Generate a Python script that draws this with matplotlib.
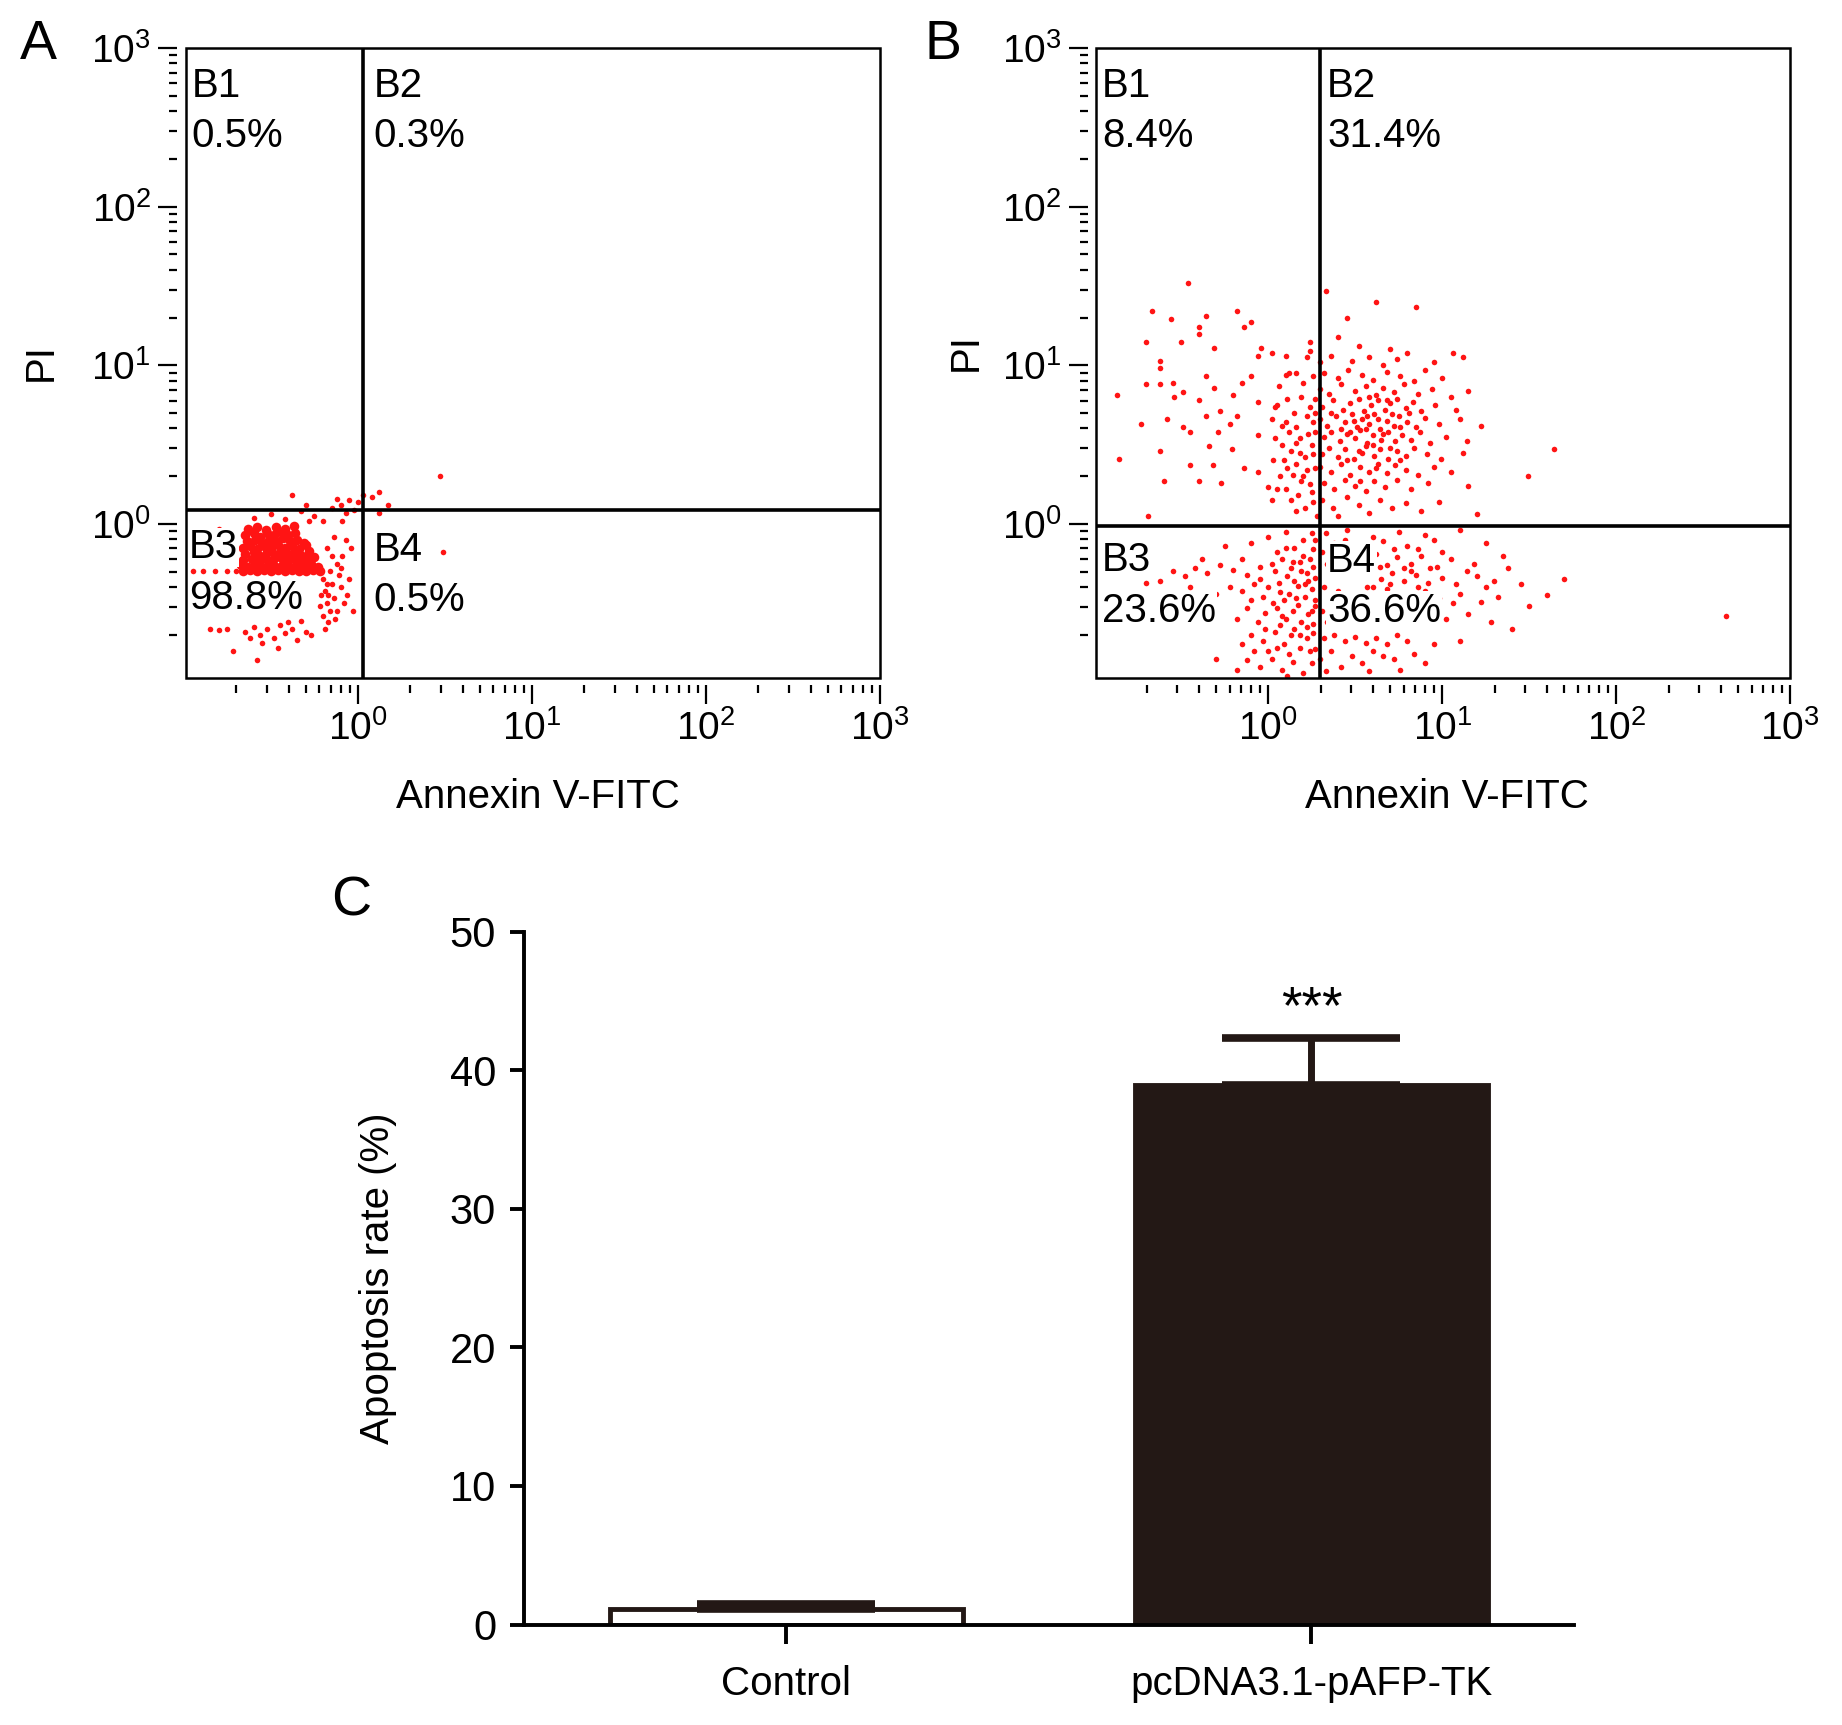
"""
Flow cytometry quadrant plots (A, B) and apoptosis rate bar chart (C).
"""

import numpy as np
import matplotlib
matplotlib.use('Agg')
import matplotlib.pyplot as plt
from matplotlib.patches import Rectangle
from matplotlib.ticker import LogLocator, NullFormatter

plt.rcParams['font.family'] = ['Liberation Sans', 'DejaVu Sans']
plt.rcParams['mathtext.fontset'] = 'custom'
plt.rcParams['mathtext.rm'] = 'Liberation Sans'
plt.rcParams['mathtext.it'] = 'Liberation Sans:italic'

# ---- data (log10 of Annexin V-FITC, log10 of PI) ----
# panel A: control, dense cluster in B3
a_core = [
    (-0.66,-0.30),(-0.62,-0.29),(-0.58,-0.30),(-0.54,-0.29),(-0.50,-0.30),(-0.46,-0.29),
    (-0.42,-0.30),(-0.38,-0.29),(-0.34,-0.30),(-0.30,-0.30),(-0.26,-0.29),(-0.22,-0.30),
    (-0.67,-0.26),(-0.63,-0.27),(-0.59,-0.25),(-0.55,-0.27),(-0.51,-0.26),(-0.47,-0.27),
    (-0.43,-0.25),(-0.39,-0.27),(-0.35,-0.26),(-0.31,-0.27),(-0.27,-0.25),(-0.23,-0.27),
    (-0.66,-0.23),(-0.61,-0.22),(-0.57,-0.24),(-0.53,-0.22),(-0.49,-0.23),(-0.45,-0.21),
    (-0.41,-0.23),(-0.37,-0.22),(-0.33,-0.24),(-0.29,-0.22),(-0.25,-0.21),
    (-0.65,-0.19),(-0.60,-0.18),(-0.56,-0.20),(-0.52,-0.18),(-0.48,-0.19),(-0.44,-0.17),
    (-0.40,-0.19),(-0.36,-0.18),(-0.32,-0.20),(-0.28,-0.17),
    (-0.66,-0.15),(-0.62,-0.14),(-0.58,-0.16),(-0.54,-0.14),(-0.50,-0.15),(-0.46,-0.13),
    (-0.42,-0.15),(-0.38,-0.14),(-0.34,-0.16),(-0.30,-0.13),
    (-0.64,-0.11),(-0.59,-0.10),(-0.55,-0.12),(-0.51,-0.10),(-0.47,-0.11),(-0.43,-0.09),
    (-0.39,-0.11),(-0.35,-0.10),(-0.31,-0.12),
    (-0.65,-0.07),(-0.60,-0.06),(-0.56,-0.08),(-0.52,-0.06),(-0.48,-0.07),(-0.44,-0.05),
    (-0.40,-0.07),(-0.36,-0.06),
    (-0.63,-0.03),(-0.58,-0.02),(-0.53,-0.04),(-0.47,-0.02),(-0.42,-0.03),(-0.37,-0.01),
]
a_other = [
    (-0.95,-0.30),(-0.89,-0.30),(-0.82,-0.30),(-0.75,-0.30),(-0.70,-0.30),
    (-0.20,-0.35),(-0.19,-0.42),(-0.18,-0.50),(-0.20,-0.58),(-0.17,-0.62),(-0.15,-0.38),
    (-0.14,-0.47),(-0.12,-0.55),(-0.16,-0.30),(-0.10,-0.40),(-0.08,-0.50),(-0.06,-0.45),
    (-0.05,-0.35),(-0.12,-0.25),(-0.09,-0.20),(-0.04,-0.15),(-0.07,-0.10),(-0.14,-0.08),
    (-0.18,-0.15),(-0.11,-0.32),(-0.03,-0.55),(-0.21,-0.45),(-0.19,-0.66),(-0.16,-0.55),
    (-0.18,-0.38),(-0.17,-0.45),(-0.13,-0.60),(-0.10,-0.28),(-0.22,-0.52),(-0.15,-0.20),
    (-0.60,0.04),(-0.50,0.06),(-0.42,0.03),(-0.33,0.08),(-0.25,0.05),(-0.15,0.10),
    (-0.10,0.12),(-0.05,0.15),(0.00,0.14),(0.03,0.18),(-0.07,0.07),(-0.20,0.02),
    (-0.30,0.12),(-0.38,0.18),(0.08,0.17),(0.12,0.20),(0.17,0.12),(-0.12,0.16),
    (-0.02,0.09),(-0.95,-0.05),(-0.80,-0.03),(-0.28,0.02),(-0.09,0.02),
    (-0.85,-0.66),(-0.80,-0.67),(-0.75,-0.66),(-0.65,-0.68),(-0.60,-0.65),(-0.56,-0.70),
    (-0.52,-0.66),(-0.48,-0.72),(-0.45,-0.64),(-0.42,-0.69),(-0.38,-0.66),(-0.35,-0.73),
    (-0.30,-0.68),(-0.27,-0.70),(-0.55,-0.75),(-0.46,-0.78),(-0.62,-0.72),(-0.72,-0.80),
    (-0.58,-0.86),(-0.40,-0.62),(-0.33,-0.61),
    (0.47,0.30),(0.49,-0.18),(0.12,0.07),
]

# panel B: pcDNA3.1-pAFP-TK
b_ul = [
    (-0.46,1.52),(-0.67,1.34),(-0.56,1.29),(-0.36,1.31),(-0.18,1.34),(-0.10,1.27),
    (-0.14,1.24),(-0.40,1.24),(-0.40,1.20),(-0.70,1.15),(-0.50,1.15),(-0.31,1.11),
    (-0.04,1.11),(-0.06,1.06),(0.02,1.08),(0.10,1.06),(-0.62,1.03),(-0.62,0.98),
    (-0.70,0.88),(-0.62,0.88),(-0.55,0.89),(-0.36,0.93),(-0.31,0.86),(-0.10,0.93),
    (-0.15,0.89),(-0.87,0.81),(-0.54,0.80),(-0.49,0.83),(-0.40,0.78),(-0.20,0.81),
    (-0.06,0.77),(0.06,0.87),(0.10,0.94),(0.16,0.95),(-0.73,0.63),(-0.58,0.66),
    (-0.49,0.61),(-0.36,0.68),(-0.28,0.71),(-0.22,0.63),(-0.18,0.68),(-0.29,0.58),
    (-0.45,0.58),(-0.06,0.56),(0.02,0.66),(-0.86,0.41),(-0.62,0.46),(-0.34,0.49),
    (-0.21,0.47),(-0.45,0.37),(-0.32,0.37),(-0.14,0.35),(-0.06,0.33),(-0.60,0.27),
    (-0.40,0.27),(-0.27,0.26),(-0.69,0.05),(0.04,0.74),
    (0.05,0.75),(0.10,0.64),(0.16,0.61),(0.22,0.68),(0.24,0.74),(0.24,1.09),
    (0.24,1.15),(0.27,0.79),(0.20,0.89),(0.11,0.79),(0.04,0.54),(0.08,0.50),
    (0.13,0.46),(0.18,0.54),(0.25,0.50),(0.21,0.42),(0.16,0.38),(0.22,0.34),
    (0.19,0.27),(0.14,0.31),(0.09,0.40),(0.03,0.40),(0.00,0.23),(0.05,0.22),
    (0.10,0.22),(0.21,0.10),(0.16,0.08),(0.26,0.14),(0.16,0.51),(0.26,0.64),
    (0.02,0.15),(0.22,1.05),(0.26,0.93),(0.12,0.95),(0.27,0.35),(0.25,0.20),
    (0.13,0.15),(0.07,0.30),(0.19,0.80),(0.27,0.58),
    (0.23,0.57),(0.18,0.45),(0.26,0.44),(0.12,0.58),(0.20,0.30),(0.24,0.25),
    (0.15,0.70),(0.27,0.70),(0.08,0.62),(0.17,0.18),(0.28,0.05),(0.11,0.35),
]
b_ur = [
    (0.33,1.47),(0.62,1.40),(0.45,1.30),(0.85,1.37),(0.40,1.18),(0.52,1.12),(0.70,1.10),
    (0.30,1.02),(0.36,1.06),(0.48,1.03),(0.58,1.05),(0.66,1.00),(0.74,1.04),(0.80,1.08),
    (0.95,1.02),(1.12,1.05),(1.06,1.08),
    (0.32,0.95),(0.40,0.92),(0.46,0.97),(0.54,0.94),(0.60,0.91),(0.68,0.96),(0.76,0.93),
    (0.84,0.90),(0.90,0.97),(1.00,0.92),
    (0.30,0.85),(0.35,0.82),(0.42,0.88),(0.50,0.84),(0.56,0.87),(0.62,0.81),(0.66,0.86),
    (0.72,0.83),(0.78,0.88),(0.86,0.82),(0.94,0.85),(1.05,0.80),(1.15,0.84),
    (0.31,0.74),(0.37,0.78),(0.43,0.72),(0.47,0.76),(0.52,0.79),(0.55,0.71),(0.59,0.75),
    (0.63,0.78),(0.67,0.72),(0.70,0.76),(0.74,0.79),(0.79,0.73),(0.83,0.77),(0.88,0.71),
    (0.96,0.75),(1.08,0.72),
    (0.30,0.66),(0.34,0.62),(0.39,0.68),(0.44,0.64),(0.48,0.69),(0.51,0.61),(0.54,0.66),
    (0.58,0.63),(0.61,0.69),(0.64,0.60),(0.68,0.65),(0.72,0.62),(0.75,0.68),(0.80,0.64),
    (0.85,0.61),(0.90,0.67),(0.98,0.63),(1.10,0.66),(1.22,0.62),
    (0.32,0.55),(0.36,0.58),(0.41,0.52),(0.45,0.57),(0.50,0.54),(0.53,0.59),(0.57,0.51),
    (0.60,0.56),(0.65,0.53),(0.69,0.58),(0.73,0.52),(0.77,0.56),(0.82,0.53),(0.87,0.58),
    (0.93,0.51),(1.02,0.55),(1.14,0.52),
    (0.31,0.44),(0.35,0.48),(0.40,0.42),(0.44,0.47),(0.49,0.41),(0.52,0.46),(0.56,0.49),
    (0.61,0.43),(0.64,0.47),(0.69,0.41),(0.74,0.46),(0.79,0.43),(0.84,0.48),(0.91,0.44),
    (0.99,0.41),(1.12,0.45),
    (0.30,0.36),(0.36,0.33),(0.42,0.38),(0.47,0.31),(0.53,0.36),(0.58,0.33),(0.63,0.38),
    (0.68,0.32),(0.73,0.37),(0.79,0.34),(0.86,0.31),(0.95,0.36),(1.05,0.33),
    (0.32,0.26),(0.38,0.22),(0.44,0.28),(0.50,0.24),(0.56,0.21),(0.61,0.27),(0.67,0.23),
    (0.74,0.28),(0.82,0.22),(0.92,0.26),(1.15,0.24),
    (0.31,0.15),(0.37,0.10),(0.45,0.17),(0.52,0.12),(0.58,0.07),(0.64,0.15),(0.71,0.10),
    (0.79,0.13),(0.88,0.08),(0.40,0.05),(0.98,0.14),(1.20,0.06),
    (0.49,0.65),(0.57,0.68),(0.63,0.66),(0.71,0.69),(0.56,0.60),(0.66,0.57),(0.60,0.50),
    (0.70,0.48),(0.54,0.45),(0.47,0.58),(0.76,0.61),(0.81,0.70),(0.42,0.60),(0.68,0.78),
    (0.58,0.80),(0.36,0.70),(0.45,0.40),(0.62,0.35),(0.76,0.40),(0.53,0.27),
    (1.64,0.47),(1.49,0.30),
]
b_ll = [
    (0.00,-0.08),(0.10,-0.05),(0.20,-0.10),(0.25,-0.06),(0.15,-0.15),(0.05,-0.18),
    (0.26,-0.16),(-0.10,-0.12),(-0.25,-0.14),
    (0.02,-0.25),(0.08,-0.22),(0.13,-0.28),(0.18,-0.24),(0.22,-0.31),(0.26,-0.27),
    (0.11,-0.33),(0.04,-0.30),(-0.05,-0.27),(-0.12,-0.32),(-0.20,-0.29),(-0.28,-0.26),
    (-0.35,-0.31),(-0.42,-0.28),(-0.48,-0.33),(-0.55,-0.30),(-0.62,-0.36),(-0.70,-0.37),
    (-0.38,-0.22),(-0.15,-0.22),(0.20,-0.20),(0.27,-0.34),
    (0.00,-0.40),(0.06,-0.37),(0.12,-0.44),(0.17,-0.39),(0.21,-0.46),(0.25,-0.41),
    (0.27,-0.48),(0.09,-0.48),(-0.03,-0.46),(-0.08,-0.38),(-0.15,-0.42),(-0.22,-0.40),
    (-0.30,-0.44),(-0.45,-0.40),(0.15,-0.36),(0.23,-0.36),(0.03,-0.50),
    (-0.02,-0.56),(0.05,-0.53),(0.10,-0.60),(0.14,-0.55),(0.19,-0.62),(0.23,-0.57),
    (0.27,-0.52),(0.26,-0.63),(0.07,-0.64),(-0.06,-0.62),(-0.12,-0.53),(0.17,-0.51),
    (-0.18,-0.60),
    (-0.10,-0.70),(-0.03,-0.74),(0.04,-0.68),(0.09,-0.76),(0.13,-0.70),(0.18,-0.78),
    (0.22,-0.72),(0.26,-0.69),(0.27,-0.79),(-0.15,-0.76),(0.00,-0.80),(0.15,-0.66),
    (-0.08,-0.80),
    (-0.12,-0.86),(-0.05,-0.90),(0.02,-0.85),(0.08,-0.92),(0.14,-0.87),(0.20,-0.94),
    (0.25,-0.88),(0.11,-0.96),(-0.18,-0.92),(-0.30,-0.85),
    (0.24,-0.22),(0.21,-0.38),(0.25,-0.55),(0.22,-0.65),(0.24,-0.80),(0.19,-0.30),
    (0.16,-0.47),(0.18,-0.70),(0.12,-0.82),(0.07,-0.43),(0.10,-0.15),(0.27,-0.10),
    (-0.05,-0.35),(-0.02,-0.66),(0.05,-0.78),(-0.10,-0.48),(0.08,-0.58),(0.14,-0.24),
]
b_lr = [
    (0.33,-0.06),(0.45,-0.04),(0.60,-0.08),(0.75,-0.05),(0.90,-0.07),(1.10,-0.04),
    (0.38,-0.12),(0.52,-0.15),(0.66,-0.11),(0.80,-0.14),(0.95,-0.10),(1.25,-0.12),
    (0.42,-0.20),(0.55,-0.24),(0.62,-0.19),(0.68,-0.26),(0.74,-0.21),(0.82,-0.25),
    (0.88,-0.20),(0.97,-0.27),(1.05,-0.22),(1.18,-0.25),(1.35,-0.20),
    (0.35,-0.30),(0.50,-0.33),(0.58,-0.30),(0.65,-0.35),(0.71,-0.31),(0.78,-0.36),
    (0.85,-0.32),(0.92,-0.37),(1.00,-0.34),(1.08,-0.38),(1.20,-0.33),(1.30,-0.36),
    (1.45,-0.38),
    (0.40,-0.42),(0.55,-0.44),(0.68,-0.41),(0.80,-0.45),(0.90,-0.42),(0.98,-0.47),
    (1.10,-0.44),(1.22,-0.49),(1.32,-0.46),(1.50,-0.52),
    (0.45,-0.55),(0.62,-0.58),(0.85,-0.55),(1.02,-0.60),(1.15,-0.57),(1.28,-0.62),
    (1.40,-0.66),
    (0.32,-0.72),(0.38,-0.70),(0.44,-0.74),(0.50,-0.71),(0.56,-0.75),(0.62,-0.72),
    (0.68,-0.76),(0.74,-0.70),(0.80,-0.74),(0.36,-0.80),(0.48,-0.83),(0.60,-0.80),
    (0.72,-0.85),(0.84,-0.82),(0.42,-0.90),(0.58,-0.93),(0.76,-0.92),(0.95,-0.76),
    (1.10,-0.74),(0.90,-0.88),
    (0.31,-0.18),(0.34,-0.25),(0.32,-0.40),(0.36,-0.48),(0.31,-0.55),(0.34,-0.62),
    (0.30,-0.85),(0.33,-0.93),(0.39,-0.58),(0.41,-0.33),(0.44,-0.10),(0.47,-0.28),
    (0.49,-0.48),(0.52,-0.62),(0.54,-0.88),(0.57,-0.40),(0.63,-0.48),(0.66,-0.83),
    (0.70,-0.55),(0.77,-0.62),(0.82,-0.30),(0.86,-0.40),(0.93,-0.28),(1.00,-0.18),
    (1.06,-0.50),(1.14,-0.30),(1.25,-0.40),(1.38,-0.28),(1.60,-0.45),(1.70,-0.35),
    (0.72,-0.16),(0.78,-0.28),(0.64,-0.27),(0.86,-0.16),(0.70,-0.38),(0.60,-0.40),
    (2.63,-0.58),
]

# quadrant gates (log10) and labels
gate_a = (0.027, 0.09)
gate_b = (0.298, -0.01)
quad_names = ['B1', 'B2', 'B3', 'B4']
pct_a = ['0.5%', '0.3%', '98.8%', '0.5%']
pct_b = ['8.4%', '31.4%', '23.6%', '36.6%']

# panel C
groups = ['Control', 'pcDNA3.1-pAFP-TK']
rate_mean = [1.1, 38.9]
rate_err = [0.4, 3.4]

RED = '#ff1414'
DARK = '#231815'
FS = 29

fig = plt.figure(figsize=(18.42, 17.25), dpi=100)


def flow_panel(rect, pts_small, pts_big, gate, pcts, label_pos):
    ax = fig.add_axes(rect)
    ax.set_xscale('log')
    ax.set_yscale('log')
    ax.set_xlim(10 ** -0.99, 1e3)
    ax.set_ylim(10 ** -0.97, 1e3)
    for pts, size in ((pts_small, 16), (pts_big, 48)):
        if len(pts):
            arr = np.array(pts)
            ax.scatter(10 ** arr[:, 0], 10 ** arr[:, 1], s=size, color=RED,
                       linewidths=0, zorder=1)
    ax.axvline(10 ** gate[0], color='black', lw=2.6, zorder=2)
    ax.axhline(10 ** gate[1], color='black', lw=2.6, zorder=2)
    for sp in ax.spines.values():
        sp.set_color('none')
    ax.spines['left'].set_position(('outward', 6))
    ax.spines['bottom'].set_position(('outward', 5))
    ax.add_patch(Rectangle((0, 0), 1, 1, transform=ax.transAxes, fill=False,
                           lw=1.8, edgecolor='black', clip_on=False, zorder=4))
    for axis in (ax.xaxis, ax.yaxis):
        axis.set_major_locator(LogLocator(base=10, numticks=10))
        axis.set_minor_locator(LogLocator(base=10, subs=np.arange(2, 10), numticks=10))
        axis.set_minor_formatter(NullFormatter())
    ax.tick_params(which='major', length=14, width=1.6, labelsize=28, direction='out')
    ax.tick_params(which='minor', length=6, width=1.6, direction='out')
    ax.tick_params(axis='x', which='major', pad=4)
    ax.tick_params(axis='y', which='major', pad=5)
    for name, pct, (x, y1, y2) in zip(quad_names, pcts, label_pos):
        for txt, yy in ((name, y1), (pct, y2)):
            ax.text(x, yy, txt, transform=ax.transAxes, fontsize=FS, ha='left',
                    va='center', zorder=3,
                    bbox=dict(facecolor='white', edgecolor='none', pad=0.5))
    return ax


flow_panel([0.1008, 0.6071, 0.3769, 0.3650], a_other, a_core, gate_a, pct_a,
           [(0.0085, 0.940, 0.860), (0.271, 0.940, 0.860),
            (0.005, 0.207, 0.127), (0.271, 0.203, 0.123)])
flow_panel([0.5950, 0.6071, 0.3769, 0.3650], b_ul + b_ur + b_ll + b_lr, [], gate_b,
           pct_b,
           [(0.0085, 0.940, 0.860), (0.333, 0.940, 0.860),
            (0.0085, 0.187, 0.106), (0.333, 0.185, 0.106)])

W, H = 1842.0, 1725.0
fig.text(38.8 / W, 1 - 44.6 / H, 'A', fontsize=40, ha='center', va='center')
fig.text(943 / W, 1 - 44.6 / H, 'B', fontsize=40, ha='center', va='center')
fig.text(351 / W, 1 - 902 / H, 'C', fontsize=40, ha='center', va='center')
fig.text(41 / W, 1 - 362 / H, 'PI', fontsize=FS, rotation=90, ha='center', va='center')
fig.text(965.6 / W, 1 - 352 / H, 'PI', fontsize=FS, rotation=90, ha='center', va='center')
fig.text(538 / W, 1 - 796.5 / H, 'Annexin V-FITC', fontsize=FS, ha='center', va='center')
fig.text(1447 / W, 1 - 796.5 / H, 'Annexin V-FITC', fontsize=FS, ha='center', va='center')
fig.text(378 / W, 1 - 1278 / H, 'Apoptosis rate (%)', fontsize=FS, rotation=90,
         ha='center', va='center')

# ---- panel C ----
axc = fig.add_axes([0.2844, 0.0582, 0.5701, 0.4018])
xpos = np.arange(len(groups))
axc.bar(xpos, rate_mean, width=0.672, color=['white', DARK],
        edgecolor=DARK, linewidth=3.5, zorder=2)
axc.errorbar(xpos, rate_mean, yerr=[[0, 0], rate_err], fmt='none', ecolor=DARK,
             elinewidth=5, capsize=64, capthick=5.5, zorder=3)
axc.text(1, 43.4, '***', fontsize=38, ha='center', va='baseline')
axc.set_xlim(-0.5, 1.5)
axc.set_ylim(0, 50)
axc.set_yticks(range(0, 51, 10))
axc.set_xticks(xpos)
axc.set_xticklabels(groups)
for side in ('top', 'right'):
    axc.spines[side].set_visible(False)
for side in ('left', 'bottom'):
    axc.spines[side].set_linewidth(2.8)
axc.tick_params(axis='y', length=10, width=2.8, labelsize=30, pad=10)
axc.tick_params(axis='x', length=14, width=2.8, labelsize=FS, pad=15)

fig.savefig('out.png', dpi=100)
